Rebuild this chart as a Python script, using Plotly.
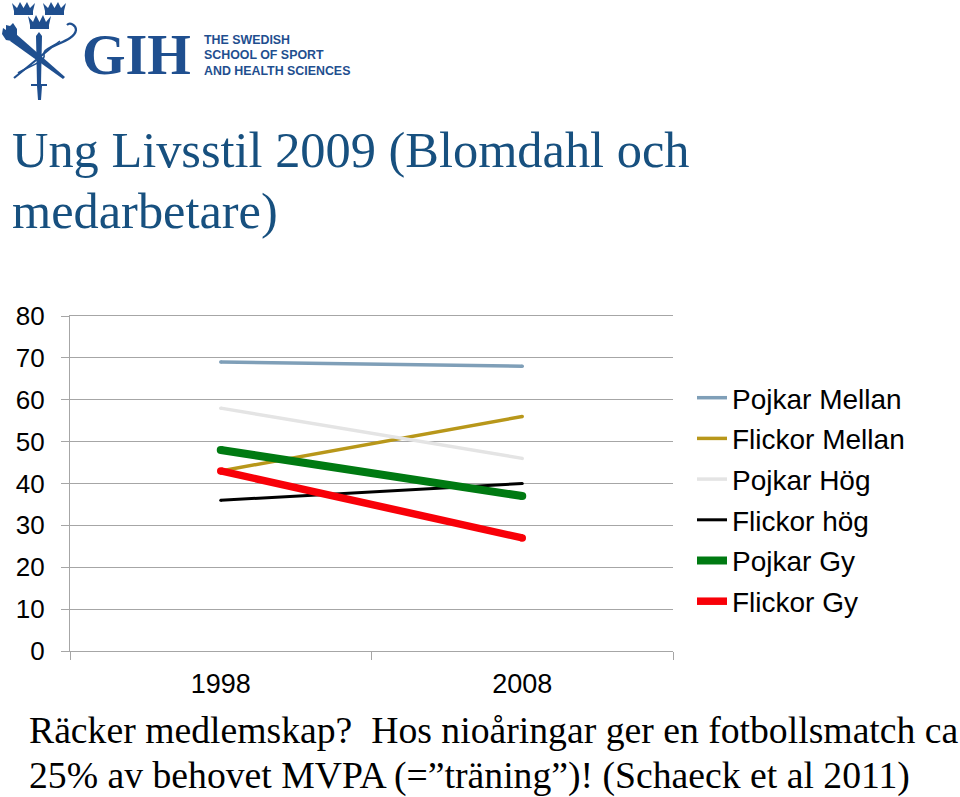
import base64
import plotly.graph_objects as go

years = ["1998", "2008"]
pojkar_mellan = [69, 68]
flickor_mellan = [43, 56]
pojkar_hog = [58, 46]
flickor_hog = [36, 40]
pojkar_gy = [48, 37]
flickor_gy = [43, 27]
y_ticks = [0, 10, 20, 30, 40, 50, 60, 70, 80]

names = ["Pojkar Mellan", "Flickor Mellan", "Pojkar Hög", "Flickor hög", "Pojkar Gy", "Flickor Gy"]
series = [pojkar_mellan, flickor_mellan, pojkar_hog, flickor_hog, pojkar_gy, flickor_gy]
colors = ["#7F9FB8", "#B8971A", "#E4E4E4", "#000000", "#007A12", "#F80008"]
widths = [3.5, 3.5, 3.5, 3, 8, 7.5]

W, H = 960, 797
L, R, T, B = 70, 673, 316, 651
BLUE = "#1F4F8F"
TITLE = "#17507F"
SANS = "Liberation Sans"
SERIF = "Liberation Serif"


def px(x):
    return (x - L) / (R - L)


def py(y):
    return (B - y) / (B - T)


fig = go.Figure()
for n, v, c, w in zip(names, series, colors, widths):
    fig.add_trace(go.Scatter(
        x=years, y=v, name=n, mode="lines", legendgroup=n,
        line=dict(color=c, width=w),
    ))
    # Round line ends
    fig.add_trace(go.Scatter(
        x=years, y=v, name=n, mode="markers", legendgroup=n, showlegend=False,
        marker=dict(color=c, size=w, line=dict(width=0)),
    ))

emblem = f'''<svg xmlns="http://www.w3.org/2000/svg" viewBox="0 0 80 104" width="80" height="104">
<g fill="{BLUE}" stroke="none">
<path d="M14 15 L33 15 L33 11 L35 3 L30 8 L27 2 L23.5 8 L20 2 L17 8 L12 3 L14 11Z"/>
<path d="M45 15 L64 15 L64 11 L66 3 L61 8 L58 2 L54.5 8 L51 2 L48 8 L43 3 L45 11Z"/>
<path d="M30 29 L49 29 L49 25 L51 16 L46 22 L43 15 L39.5 22 L36 15 L33 22 L28 16 L30 25Z"/>
<path d="M36 36 L39 32 L42 36 L41 84 L47 84 L47 86 L42 86 L41 100 L38 100 L37 86 L31 86 L31 84 L37 84Z"/>
<path d="M10 41 L16 34 L65 77 L63 79Z"/>
<path d="M2 34 L3 28 L6 30 L6 25 L10 26 L13 23 L17 29 L17 35 L12 41 L6 40Z"/>
</g>
<path d="M14 78 L30 65 L52 47 C62 42 75 38 76 30 C76 25 70 22 67 25" fill="none" stroke="{BLUE}" stroke-width="2.2"/>
<path d="M18 73 C28 66 46 62 44 55 C42 49 52 48 60 41" fill="none" stroke="{BLUE}" stroke-width="1.6"/>
</svg>'''
emblem_uri = "data:image/svg+xml;base64," + base64.b64encode(emblem.encode()).decode()


def note(text, x, y, size, color="#000000", family=SERIF):
    return dict(text=text, x=px(x), y=py(y), xref="paper", yref="paper",
                xanchor="left", yanchor="middle", showarrow=False, align="left",
                font=dict(family=family, size=size, color=color))


annotations = [
    note("medarbetare)", 10, 211, 50.4, TITLE),
    note("<b>GIH</b>", 80, 55, 56, BLUE),
    note("<b>THE SWEDISH</b>", 202, 40, 12.4, BLUE, SANS),
    note("<b>SCHOOL OF SPORT</b>", 202, 55.5, 12.4, BLUE, SANS),
    note("<b>AND HEALTH SCIENCES</b>", 202, 71, 12.4, BLUE, SANS),
    note("Räcker medlemskap?  Hos nioåringar ger en fotbollsmatch ca", 27, 730, 37.7),
    note("25% av behovet MVPA (=”träning”)! (Schaeck et al 2011)", 27, 775, 37.7),
]

fig.update_layout(
    width=W, height=H, autosize=False,
    margin=dict(l=L, r=W - R, t=T, b=H - B, pad=0),
    paper_bgcolor="white", plot_bgcolor="white",
    title=dict(text="Ung Livsstil 2009 (Blomdahl och", x=12 / W, xanchor="left", xref="container",
               y=1 - 149 / H, yanchor="middle", yref="container",
               font=dict(family=SERIF, size=50.4, color=TITLE)),
    font=dict(family=SANS, size=27, color="#000000"),
    xaxis=dict(type="category", range=[-0.5, 1.5], tickson="boundaries", ticks="outside",
               ticklen=8, tickcolor="#A6A6A6", tickwidth=1.3, showgrid=False,
               showline=True, linecolor="#A6A6A6", linewidth=1.3, zeroline=False, mirror=True,
               ticklabelstandoff=8, tickfont=dict(family=SANS, size=27)),
    yaxis=dict(range=[0, 80], tickvals=y_ticks, ticks="outside", ticklen=8,
               tickcolor="#A6A6A6", tickwidth=1.3, showgrid=True, gridcolor="#A6A6A6",
               gridwidth=1.3, showline=True, linecolor="#A6A6A6", linewidth=1.3,
               zeroline=False, ticklabelstandoff=11, tickfont=dict(family=SANS, size=26)),
    legend=dict(x=px(692), xref="paper", xanchor="left", y=py(373), yref="paper", yanchor="top",
                tracegroupgap=1.3, font=dict(family=SANS, size=28), itemwidth=30,
                bgcolor="rgba(0,0,0,0)", traceorder="grouped"),
    annotations=annotations,
    images=[dict(source=emblem_uri, xref="paper", yref="paper", x=px(0), y=py(0),
                 sizex=80 / (R - L), sizey=104 / (B - T),
                 xanchor="left", yanchor="top", sizing="stretch", layer="above")],
)

fig.write_html("out.html", post_script="document.body.style.margin='0';",
               config=dict(displayModeBar=False))
